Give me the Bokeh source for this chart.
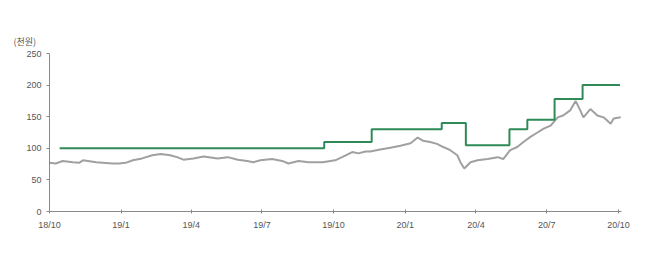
import pandas as pd
from bokeh.plotting import figure
from bokeh.models import FixedTicker, Range1d
from bokeh.embed import file_html
from bokeh.resources import INLINE

# Share price (thousand won)
price_dates = ["2018-10-01", "2018-10-09", "2018-10-18", "2018-10-31", "2018-11-08", "2018-11-13",
               "2018-11-30", "2018-12-21", "2018-12-29", "2019-01-07", "2019-01-16", "2019-01-28",
               "2019-02-10", "2019-02-21", "2019-03-05", "2019-03-14", "2019-03-22", "2019-04-04",
               "2019-04-17", "2019-05-05", "2019-05-18", "2019-05-31", "2019-06-12", "2019-06-20",
               "2019-06-29", "2019-07-14", "2019-07-27", "2019-08-04", "2019-08-17", "2019-08-30",
               "2019-09-17", "2019-10-03", "2019-10-12", "2019-10-25", "2019-11-02", "2019-11-11",
               "2019-11-17", "2019-11-30", "2019-12-13", "2019-12-26", "2020-01-08", "2020-01-17",
               "2020-01-24", "2020-02-02", "2020-02-11", "2020-02-19", "2020-02-28", "2020-03-08",
               "2020-03-12", "2020-03-17", "2020-03-25", "2020-04-03", "2020-04-16", "2020-04-29",
               "2020-05-06", "2020-05-15", "2020-05-24", "2020-06-01", "2020-06-10", "2020-06-19",
               "2020-06-27", "2020-07-06", "2020-07-15", "2020-07-22", "2020-07-31", "2020-08-07",
               "2020-08-13", "2020-08-17", "2020-08-26", "2020-09-04", "2020-09-12", "2020-09-21",
               "2020-09-25", "2020-10-04"]
price_values = [77, 76, 80, 78, 77, 81,
                78, 76, 76, 77, 81, 84,
                89, 91, 89, 86, 82, 84,
                87, 84, 86, 82, 80, 78,
                81, 83, 80, 76, 80, 78,
                78, 81, 86, 94, 92, 95,
                95, 98, 101, 104, 108, 117,
                112, 110, 107, 102, 97, 89,
                78, 68, 78, 81, 83, 86,
                83, 97, 102, 110, 118, 125,
                131, 136, 149, 152, 160, 175,
                160, 149, 162, 152, 149, 139,
                147, 149]

# Target price (thousand won)
target_dates = ["2018-10-14", "2019-09-19", "2019-11-19", "2020-02-17", "2020-03-19",
                "2020-05-14", "2020-06-06", "2020-07-11", "2020-08-16", "2020-10-03"]
target_values = [100, 110, 130, 140, 105, 130, 145, 178, 200, 200]

tick_dates = ["2018-10-01", "2019-01-01", "2019-04-01", "2019-07-01", "2019-10-01",
              "2020-01-01", "2020-04-01", "2020-07-01", "2020-10-01"]
tick_labels = ["18/10", "19/1", "19/4", "19/7", "19/10", "20/1", "20/4", "20/7", "20/10"]
y_ticks = [0, 50, 100, 150, 200, 250]
unit_label = "(천원)"

pd_price = pd.to_datetime(price_dates)
pd_target = pd.to_datetime(target_dates)
tick_ms = [float(pd.Timestamp(d).value // 10**6) for d in tick_dates]

p = figure(width=658, height=264, x_axis_type="datetime", output_backend="svg",
           toolbar_location=None,
           x_range=Range1d(pd.Timestamp("2018-10-01"), pd.Timestamp("2020-10-05")),
           y_range=Range1d(0, 250),
           min_border_left=49, min_border_right=37, min_border_top=53, min_border_bottom=53)
p.background_fill_color = "white"
p.border_fill_color = "white"
p.outline_line_color = None
p.grid.grid_line_color = None

p.title.text = unit_label
p.title.align = "left"
p.title.offset = -36
p.title.text_font = "Noto Sans CJK KR"
p.title.text_font_size = "9px"
p.title.text_font_style = "normal"
p.title.text_color = "#555555"
p.title.standoff = 11

p.line(pd_price, price_values, line_color="#a0a0a0", line_width=2)
p.step(pd_target, target_values, mode="after", line_color="#2e8b57", line_width=2)

font = "Liberation Sans"
p.xaxis.ticker = FixedTicker(ticks=tick_ms)
p.xaxis.major_label_overrides = {t: l for t, l in zip(tick_ms, tick_labels)}
p.yaxis.ticker = FixedTicker(ticks=y_ticks)
for ax in (p.xaxis, p.yaxis):
    ax.axis_line_color = "#8a8a8a"
    ax.axis_line_width = 1
    ax.major_tick_line_color = "#8a8a8a"
    ax.minor_tick_line_color = None
    ax.major_label_text_font = font
    ax.major_label_text_font_size = "9px"
    ax.major_label_text_color = "#555555"
p.xaxis.major_tick_in = 2
p.xaxis.major_tick_out = 2
p.yaxis.major_tick_in = 0
p.yaxis.major_tick_out = 3
p.xaxis.major_label_standoff = 6
p.yaxis.major_label_standoff = 5

open("out.html", "w").write(file_html(p, INLINE))
